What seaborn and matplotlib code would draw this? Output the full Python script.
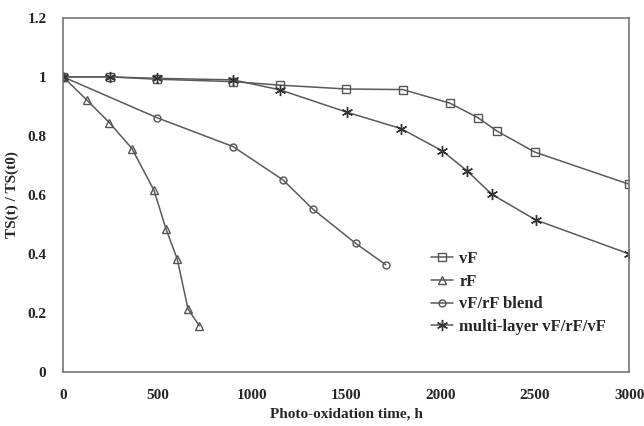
import matplotlib
matplotlib.use("Agg")
import matplotlib.pyplot as plt
import seaborn as sns
import pandas as pd

# ---- data ----
vf_t = [0, 250, 500, 900, 1150, 1500, 1800, 2050, 2200, 2300, 2500, 3000]
vf_y = [1.0, 1.0, 0.992, 0.984, 0.972, 0.959, 0.957, 0.911, 0.861, 0.816, 0.745, 0.636]

rf_t = [0, 125, 245, 365, 482, 545, 605, 662, 722]
rf_y = [1.0, 0.922, 0.845, 0.757, 0.615, 0.485, 0.382, 0.213, 0.156]

bl_t = [0, 500, 900, 1165, 1325, 1550, 1710]
bl_y = [1.0, 0.861, 0.764, 0.651, 0.551, 0.436, 0.363]

ml_t = [0, 250, 500, 900, 1150, 1505, 1790, 2010, 2140, 2272, 2505, 3000]
ml_y = [1.0, 1.0, 0.995, 0.99, 0.956, 0.88, 0.825, 0.749, 0.682, 0.602, 0.515, 0.4]

labels = ["vF", "rF", "vF/rF blend", "multi-layer vF/rF/vF"]
x_ticks = [0, 500, 1000, 1500, 2000, 2500, 3000]
y_ticks = [0, 0.2, 0.4, 0.6, 0.8, 1.0, 1.2]
y_tick_labels = ["0", "0.2", "0.4", "0.6", "0.8", "1", "1.2"]

sns.set_theme(style="white")
plt.rcParams["font.family"] = ["Liberation Serif", "DejaVu Serif"]
plt.rcParams["font.weight"] = "bold"

fig = plt.figure(figsize=(6.44, 4.26), dpi=100)
ax = fig.add_axes([0.098, 0.127, 0.879, 0.831])

line_col = "#5a5a5a"
series = [(vf_t, vf_y, "s", 5.5), (rf_t, rf_y, "^", 6), (bl_t, bl_y, "o", 5), (ml_t, ml_y, (6, 2, 0), 8)]
for (t, y, m, ms), lab in zip(series, labels):
    df = pd.DataFrame({"t": t, "y": y})
    if isinstance(m, tuple):
        sns.lineplot(data=df, x="t", y="y", ax=ax, color=line_col, lw=1.1,
                     marker=m, markersize=ms, markeredgecolor="#333333",
                     markeredgewidth=1.0, label=lab)
    else:
        sns.lineplot(data=df, x="t", y="y", ax=ax, color=line_col, lw=1.1,
                     marker=m, markersize=ms, markerfacecolor="none",
                     markeredgecolor="#555555", markeredgewidth=1.0, label=lab)

ax.set_xlim(0, 3000)
ax.set_ylim(0, 1.2)
ax.set_xticks(x_ticks)
ax.set_xticklabels([str(v) for v in x_ticks])
ax.set_yticks(y_ticks)
ax.set_yticklabels(y_tick_labels)
ax.tick_params(axis="both", which="major", direction="out", length=4, width=1,
               color="#777777", labelsize=11, pad=8)
for lab in ax.get_xticklabels() + ax.get_yticklabels():
    lab.set_fontweight("bold")
for sp in ax.spines.values():
    sp.set_color("#777777")
    sp.set_linewidth(1.2)

ax.set_xlabel("Photo-oxidation time, h", fontsize=11, fontweight="bold", labelpad=4)
ax.set_ylabel("TS(t) / TS(t0)", fontsize=11, fontweight="bold", labelpad=6)

leg = ax.legend(loc="upper left", bbox_to_anchor=(0.635, 0.365), frameon=False,
                prop={"family": "Liberation Serif", "weight": "bold", "size": 12},
                handlelength=1.3, handletextpad=0.4, labelspacing=0.4, borderpad=0)

fig.savefig("out.png", dpi=100, facecolor="white")
